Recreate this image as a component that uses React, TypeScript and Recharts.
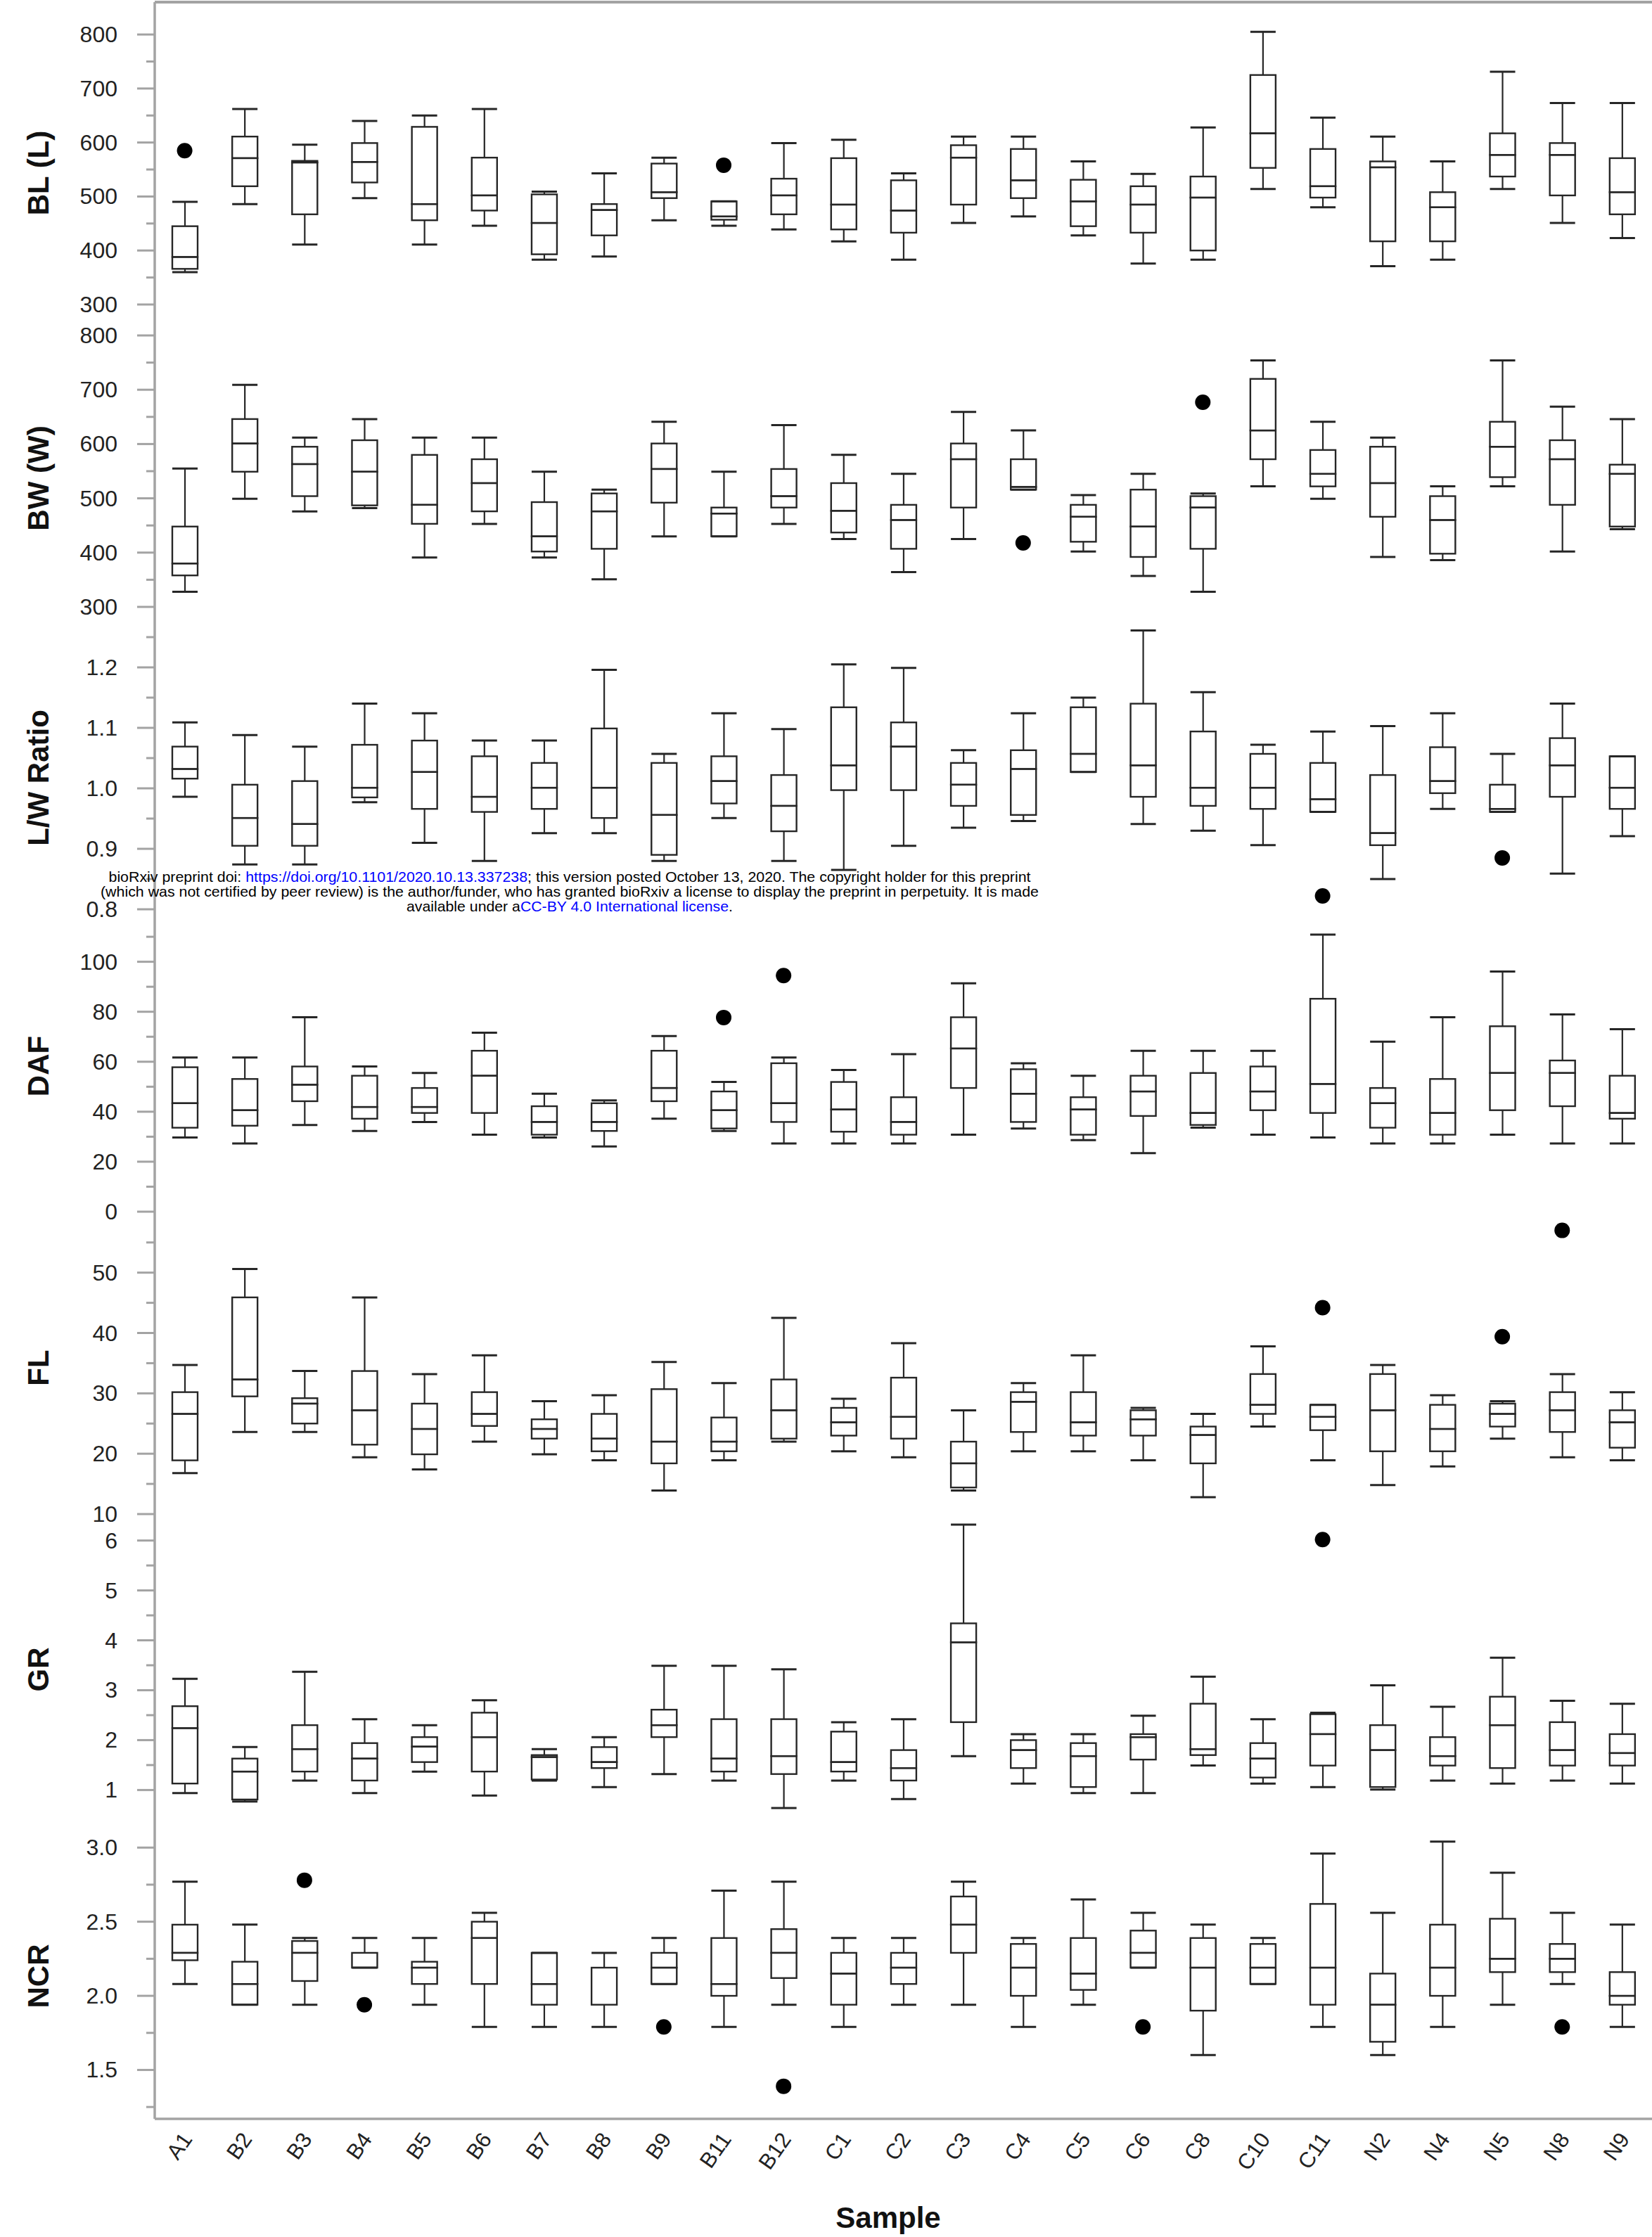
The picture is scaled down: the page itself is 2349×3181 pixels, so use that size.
import React from 'react';
import { ComposedChart, Bar, Scatter, XAxis, YAxis, ReferenceLine } from 'recharts';

const CATEGORIES = ['A1', 'B2', 'B3', 'B4', 'B5', 'B6', 'B7', 'B8', 'B9', 'B11', 'B12', 'C1', 'C2', 'C3', 'C4', 'C5', 'C6', 'C8', 'C10', 'C11', 'N2', 'N4', 'N5', 'N8', 'N9'];

// [min, q1, median, q3, max] per category
const BL_STATS = [
  [360, 366, 388, 445, 490], [486, 519, 571, 611, 662], [411, 467, 563, 566, 596], [497, 526, 564, 599, 640],
  [411, 456, 486, 629, 650], [446, 474, 502, 572, 662], [383, 393, 451, 504, 509], [389, 428, 475, 486, 543],
  [456, 497, 508, 561, 572], [446, 457, 463, 491, 491], [439, 467, 502, 533, 599], [417, 439, 485, 571, 605],
  [383, 433, 474, 530, 543], [451, 485, 572, 595, 611], [463, 497, 530, 588, 611], [428, 445, 491, 531, 565],
  [376, 433, 485, 519, 542], [383, 400, 498, 537, 628], [514, 553, 617, 725, 805], [480, 498, 519, 588, 646],
  [371, 417, 554, 565, 611], [383, 417, 480, 508, 565], [514, 537, 577, 617, 731], [451, 502, 577, 599, 673],
  [423, 467, 508, 571, 673],
];
const BL_OUTLIERS = { A1: 585, B11: 558 };

const BW_STATS = [
  [328, 358, 380, 448, 555], [499, 549, 601, 646, 709], [476, 504, 563, 595, 612], [482, 487, 549, 607, 646],
  [391, 453, 488, 580, 612], [453, 476, 528, 572, 612], [391, 402, 430, 493, 549], [351, 407, 476, 509, 516],
  [430, 492, 554, 601, 641], [430, 430, 472, 483, 549], [453, 483, 504, 554, 635], [425, 437, 477, 528, 580],
  [364, 407, 460, 488, 545], [425, 483, 572, 601, 659], [516, 516, 521, 572, 625], [402, 420, 466, 488, 506],
  [357, 392, 448, 516, 545], [328, 407, 483, 504, 509], [522, 572, 625, 720, 754], [499, 522, 545, 589, 641],
  [392, 466, 528, 595, 612], [386, 398, 460, 504, 522], [522, 539, 595, 641, 754], [402, 488, 572, 607, 669],
  [443, 448, 545, 562, 646],
];
const BW_OUTLIERS = { C4: 418, C8: 677 };

const LW_STATS = [
  [0.986, 1.016, 1.032, 1.069, 1.109], [0.874, 0.905, 0.951, 1.006, 1.088], [0.874, 0.905, 0.941, 1.012, 1.069],
  [0.977, 0.985, 1.001, 1.072, 1.14], [0.91, 0.966, 1.027, 1.079, 1.124], [0.88, 0.961, 0.986, 1.053, 1.079],
  [0.926, 0.966, 1.001, 1.042, 1.079], [0.926, 0.951, 1.001, 1.099, 1.196], [0.88, 0.89, 0.956, 1.042, 1.057],
  [0.951, 0.975, 1.012, 1.053, 1.124], [0.88, 0.929, 0.971, 1.022, 1.098], [0.865, 0.997, 1.038, 1.134, 1.205],
  [0.905, 0.997, 1.069, 1.109, 1.199], [0.935, 0.971, 1.006, 1.042, 1.063], [0.946, 0.956, 1.032, 1.063, 1.124],
  [1.027, 1.027, 1.057, 1.134, 1.15], [0.941, 0.986, 1.038, 1.14, 1.261], [0.93, 0.971, 1.001, 1.094, 1.159],
  [0.906, 0.966, 1.001, 1.057, 1.072], [0.961, 0.961, 0.982, 1.042, 1.094], [0.85, 0.906, 0.926, 1.022, 1.103],
  [0.966, 0.992, 1.012, 1.068, 1.124], [0.961, 0.961, 0.966, 1.006, 1.057], [0.859, 0.986, 1.038, 1.083, 1.14],
  [0.921, 0.966, 1.001, 1.053, 1.053],
];
const LW_OUTLIERS = { C11: 0.822, N5: 0.885 };

const DAF_STATS = [
  [29.7, 33.6, 43.4, 57.8, 61.7], [27.3, 34.4, 40.6, 53.1, 61.7], [34.7, 44.2, 50.8, 58.1, 77.8], [32.3, 37.2, 41.9, 54.4, 58.1],
  [35.9, 39.5, 41.9, 49.5, 55.5], [30.8, 39.5, 54.4, 64.4, 71.6], [29.7, 30.8, 35.9, 42.2, 47.2], [26.1, 32.3, 35.9, 43.4, 44.5],
  [37.2, 44.2, 49.5, 64.4, 70.3], [32.3, 33.3, 40.6, 48.1, 51.9], [27.3, 35.9, 43.4, 59.4, 61.7], [27.3, 32.0, 40.9, 51.9, 56.7],
  [27.3, 30.8, 35.9, 45.8, 63.0], [30.8, 49.5, 65.3, 77.8, 91.4], [33.3, 35.9, 47.2, 57.0, 59.4], [28.6, 30.8, 40.9, 45.8, 54.4],
  [23.4, 38.3, 48.1, 54.4, 64.4], [33.6, 34.7, 39.5, 55.5, 64.4], [30.8, 40.6, 48.1, 58.1, 64.4], [29.7, 39.5, 51.1, 85.2, 110.9],
  [27.3, 33.6, 43.4, 49.5, 68.0], [27.3, 30.8, 39.5, 53.1, 77.8], [30.8, 40.6, 55.5, 74.2, 96.1], [27.3, 42.2, 55.5, 60.5, 78.9],
  [27.3, 37.2, 39.5, 54.4, 73.0],
];
const DAF_OUTLIERS = { B11: 77.7, B12: 94.5 };

const FL_STATS = [
  [16.8, 18.9, 26.6, 30.2, 34.7], [23.6, 29.5, 32.3, 45.9, 50.6], [23.6, 25.0, 28.3, 29.2, 33.7], [19.4, 21.5, 27.2, 33.7, 45.9],
  [17.4, 19.9, 24.1, 28.3, 33.2], [22.0, 24.6, 26.6, 30.2, 36.3], [19.9, 22.5, 24.1, 25.7, 28.7], [18.9, 20.4, 22.5, 26.6, 29.7],
  [13.9, 18.4, 22.0, 30.7, 35.2], [18.9, 20.4, 22.0, 26.0, 31.7], [22.0, 22.5, 27.2, 32.3, 42.5], [20.4, 23.0, 25.2, 27.6, 29.1],
  [19.4, 22.5, 26.1, 32.6, 38.3], [13.9, 14.4, 18.4, 22.0, 27.2], [20.4, 23.6, 28.6, 30.2, 31.7], [20.4, 23.0, 25.2, 30.2, 36.3],
  [18.9, 23.0, 25.7, 27.2, 27.6], [12.8, 18.4, 23.1, 24.5, 26.6], [24.5, 26.6, 28.1, 33.2, 37.8], [18.9, 23.9, 26.1, 28.1, 28.1],
  [14.8, 20.4, 27.2, 33.2, 34.7], [17.9, 20.4, 24.1, 28.1, 29.7], [22.5, 24.5, 26.6, 28.3, 28.7], [19.4, 23.6, 27.2, 30.2, 33.2],
  [18.9, 21.0, 25.2, 27.2, 30.2],
];
const FL_OUTLIERS = { C11: 44.2, N5: 39.4, N8: 57.0 };

const GR_STATS = [
  [0.94, 1.13, 2.24, 2.68, 3.23], [0.77, 0.81, 1.37, 1.63, 1.86], [1.19, 1.37, 1.82, 2.3, 3.37], [0.94, 1.19, 1.63, 1.94, 2.42],
  [1.37, 1.56, 1.87, 2.06, 2.3], [0.89, 1.37, 2.06, 2.55, 2.8], [1.19, 1.21, 1.66, 1.7, 1.82], [1.06, 1.44, 1.56, 1.86, 2.06],
  [1.32, 2.06, 2.3, 2.61, 3.49], [1.19, 1.37, 1.63, 2.42, 3.49], [0.64, 1.32, 1.68, 2.42, 3.42], [1.19, 1.37, 1.56, 2.17, 2.36],
  [0.82, 1.19, 1.44, 1.8, 2.42], [1.68, 2.36, 3.96, 4.34, 6.32], [1.13, 1.44, 1.8, 2.0, 2.12], [0.94, 1.06, 1.68, 1.94, 2.12],
  [0.94, 1.61, 2.06, 2.12, 2.49], [1.49, 1.7, 1.82, 2.73, 3.27], [1.13, 1.25, 1.63, 1.94, 2.42], [1.06, 1.49, 2.12, 2.52, 2.55],
  [1.01, 1.06, 1.8, 2.3, 3.1], [1.19, 1.49, 1.68, 2.06, 2.67], [1.13, 1.44, 2.3, 2.87, 3.65], [1.19, 1.49, 1.8, 2.36, 2.79],
  [1.13, 1.49, 1.74, 2.12, 2.73],
];
const GR_OUTLIERS = { C11: 6.02 };

const NCR_STATS = [
  [2.08, 2.24, 2.29, 2.48, 2.77], [1.94, 1.94, 2.08, 2.23, 2.48], [1.94, 2.1, 2.29, 2.37, 2.39], [2.19, 2.19, 2.19, 2.29, 2.39],
  [1.94, 2.08, 2.19, 2.23, 2.39], [1.79, 2.08, 2.39, 2.5, 2.56], [1.79, 1.94, 2.08, 2.29, 2.29], [1.79, 1.94, 2.19, 2.19, 2.29],
  [2.08, 2.08, 2.19, 2.29, 2.39], [1.79, 2.0, 2.08, 2.39, 2.71], [1.94, 2.12, 2.29, 2.45, 2.77], [1.79, 1.94, 2.15, 2.29, 2.39],
  [1.94, 2.08, 2.19, 2.29, 2.39], [1.94, 2.29, 2.48, 2.67, 2.77], [1.79, 2.0, 2.19, 2.35, 2.39], [1.94, 2.04, 2.15, 2.39, 2.65],
  [2.19, 2.19, 2.29, 2.44, 2.56], [1.6, 1.9, 2.19, 2.39, 2.48], [2.08, 2.08, 2.19, 2.35, 2.39], [1.79, 1.94, 2.19, 2.62, 2.96],
  [1.6, 1.69, 1.94, 2.15, 2.56], [1.79, 2.0, 2.19, 2.48, 3.04], [1.94, 2.16, 2.25, 2.52, 2.83], [2.08, 2.16, 2.25, 2.35, 2.56],
  [1.79, 1.94, 2.0, 2.16, 2.48],
];
const NCR_OUTLIERS = { B3: 2.78, B4: 1.94, B9: 1.79, B12: 1.39, C6: 1.79, N8: 1.79 };

// axis ticks
const BL_MAJOR = [300, 400, 500, 600, 700, 800];
const BL_MINOR = [350, 450, 550, 650, 750];
const LW_MAJOR = [0.8, 0.9, 1.0, 1.1, 1.2];
const LW_MINOR = [0.85, 0.95, 1.05, 1.15, 1.25];
const DAF_MAJOR = [0, 20, 40, 60, 80, 100];
const DAF_MINOR = [10, 30, 50, 70, 90, 110];
const FL_MAJOR = [10, 20, 30, 40, 50];
const FL_MINOR = [15, 25, 35, 45, 55];
const GR_MAJOR = [1, 2, 3, 4, 5, 6];
const GR_MINOR = [1.5, 2.5, 3.5, 4.5, 5.5];
const NCR_MAJOR = [1.5, 2.0, 2.5, 3.0];
const NCR_MINOR = [1.25, 1.75, 2.25, 2.75];

const FONT = '"Liberation Sans", Arial, Helvetica, sans-serif';
const W = 2349;
const AXIS_W = 220;
const PLOT_H = 430;
const XAXIS_H = 168;
const GRID = '#a3a3a3';
const INK = '#262626';

type Stat = number[];

function buildRows(stats: Stat[], outliers: Record<string, number>) {
  return CATEGORIES.map((cat, i) => {
    const [mn, q1, md, q3, mx] = stats[i];
    return {
      cat,
      base: mn,
      lw: q1 - mn,
      lb: md - q1,
      ub: q3 - md,
      uw: mx - q3,
      outlier: outliers[cat] !== undefined ? outliers[cat] : null,
    };
  });
}

const LowerWhisker = (p: any) => {
  if (p.x == null || p.y == null || !isFinite(p.y)) return <g />;
  const top = Math.min(p.y, p.y + p.height);
  const bot = Math.max(p.y, p.y + p.height);
  const cx = p.x + p.width / 2;
  return (
    <g>
      <line x1={cx} x2={cx} y1={top} y2={bot} stroke={INK} strokeWidth={2.2} />
      <line x1={p.x} x2={p.x + p.width} y1={bot} y2={bot} stroke={INK} strokeWidth={3} />
    </g>
  );
};

const UpperWhisker = (p: any) => {
  if (p.x == null || p.y == null || !isFinite(p.y)) return <g />;
  const top = Math.min(p.y, p.y + p.height);
  const bot = Math.max(p.y, p.y + p.height);
  const cx = p.x + p.width / 2;
  return (
    <g>
      <line x1={cx} x2={cx} y1={top} y2={bot} stroke={INK} strokeWidth={2.2} />
      <line x1={p.x} x2={p.x + p.width} y1={top} y2={top} stroke={INK} strokeWidth={3} />
    </g>
  );
};

const BoxPart = (p: any) => {
  if (p.x == null || p.y == null || !isFinite(p.y)) return <g />;
  const top = Math.min(p.y, p.y + p.height);
  const h = Math.abs(p.height);
  return <rect x={p.x} y={top} width={p.width} height={h} fill="none" stroke={INK} strokeWidth={2.4} />;
};

const Invisible = () => <g />;

const OutlierDot = (p: any) => {
  if (!p.payload || p.payload.outlier == null || p.cy == null || !isFinite(p.cy)) return <g />;
  return <circle cx={p.cx} cy={p.cy} r={11} fill="#000" />;
};

const makeYTick = (major: number[], digits: number) => (p: any) => {
  const v = p.payload.value;
  const isMajor = major.some((m) => Math.abs(m - v) < 1e-9);
  const y = p.y;
  return (
    <g>
      <line x1={AXIS_W - (isMajor ? 25 : 12)} x2={AXIS_W} y1={y} y2={y} stroke={GRID} strokeWidth={3} />
      {isMajor && (
        <text x={AXIS_W - 53} y={y} textAnchor="end" dominantBaseline="central" fontSize={32} fontFamily={FONT} fill="#222">
          {v.toFixed(digits)}
        </text>
      )}
    </g>
  );
};

const XTick = (p: any) => {
  const ax = p.x + 12;
  const ay = PLOT_H + 29;
  return (
    <text x={ax} y={ay} transform={`rotate(-55, ${ax}, ${ay})`} textAnchor="end" fontSize={31} fontFamily={FONT} fill="#222">
      {p.payload.value}
    </text>
  );
};

type PanelProps = {
  stats: Stat[];
  outliers: Record<string, number>;
  domain: [number, number];
  major: number[];
  minor: number[];
  digits: number;
  topPad?: number;
  last?: boolean;
  topLine?: boolean;
};

function BoxPanel({ stats, outliers, domain, major, minor, digits, topPad = 0, last = false, topLine = false }: PanelProps) {
  const rows = buildRows(stats, outliers);
  const ticks = [...major, ...minor].sort((a, b) => a - b);
  const height = topPad + PLOT_H + (last ? XAXIS_H : 0);
  return (
    <ComposedChart width={W} height={height} data={rows} margin={{ top: topPad, right: 0, bottom: 0, left: 0 }}>
      <XAxis
        dataKey="cat"
        type="category"
        height={last ? XAXIS_H : 0}
        tick={last ? <XTick /> : false}
        tickLine={false}
        tickSize={0}
        interval={0}
        axisLine={{ stroke: GRID, strokeWidth: 3.5 }}
      />
      <YAxis
        type="number"
        domain={domain}
        allowDataOverflow
        ticks={ticks}
        interval={0}
        width={AXIS_W}
        tickLine={false}
        tickSize={0}
        tick={makeYTick(major, digits)}
        axisLine={{ stroke: GRID, strokeWidth: 3.5 }}
      />
      {topLine && <ReferenceLine y={domain[1]} stroke={GRID} strokeWidth={4} />}
      <Bar dataKey="base" stackId="b" barSize={36} shape={<Invisible />} isAnimationActive={false} />
      <Bar dataKey="lw" stackId="b" barSize={36} shape={<LowerWhisker />} isAnimationActive={false} />
      <Bar dataKey="lb" stackId="b" barSize={36} shape={<BoxPart />} isAnimationActive={false} />
      <Bar dataKey="ub" stackId="b" barSize={36} shape={<BoxPart />} isAnimationActive={false} />
      <Bar dataKey="uw" stackId="b" barSize={36} shape={<UpperWhisker />} isAnimationActive={false} />
      <Scatter dataKey="outlier" shape={<OutlierDot />} isAnimationActive={false} />
    </ComposedChart>
  );
}

const TITLES = [
  { text: 'BL (L)', y: 246 },
  { text: 'BW (W)', y: 680 },
  { text: 'L/W Ratio', y: 1106 },
  { text: 'DAF', y: 1516 },
  { text: 'FL', y: 1945 },
  { text: 'GR', y: 2374 },
  { text: 'NCR', y: 2810 },
];

export default function App() {
  return (
    <div style={{ position: 'absolute', left: 0, top: 0, width: W, height: 3181, background: '#fff' }}>
      <style>{`.recharts-surface{overflow:visible !important}.recharts-wrapper{overflow:visible !important}`}</style>
      <BoxPanel stats={BL_STATS} outliers={BL_OUTLIERS} domain={[300, 860]} major={BL_MAJOR} minor={BL_MINOR} digits={0} topPad={3} topLine />
      <BoxPanel stats={BW_STATS} outliers={BW_OUTLIERS} domain={[300, 857]} major={BL_MAJOR} minor={BL_MINOR} digits={0} />
      <BoxPanel stats={LW_STATS} outliers={LW_OUTLIERS} domain={[0.8, 1.3]} major={LW_MAJOR} minor={LW_MINOR} digits={1} />
      <BoxPanel stats={DAF_STATS} outliers={DAF_OUTLIERS} domain={[0, 121]} major={DAF_MAJOR} minor={DAF_MINOR} digits={0} />
      <BoxPanel stats={FL_STATS} outliers={FL_OUTLIERS} domain={[10, 60.1]} major={FL_MAJOR} minor={FL_MINOR} digits={0} />
      <BoxPanel stats={GR_STATS} outliers={GR_OUTLIERS} domain={[0.47, 6.53]} major={GR_MAJOR} minor={GR_MINOR} digits={0} />
      <BoxPanel stats={NCR_STATS} outliers={NCR_OUTLIERS} domain={[1.17, 3.21]} major={NCR_MAJOR} minor={NCR_MINOR} digits={1} last />
      <svg width={W} height={3181} style={{ position: 'absolute', left: 0, top: 0, pointerEvents: 'none' }}>
        {TITLES.map((t) => (
          <text
            key={t.text}
            transform={`translate(54, ${t.y}) rotate(-90)`}
            textAnchor="middle"
            dominantBaseline="central"
            fontSize={42}
            fontWeight="bold"
            fontFamily={FONT}
            fill="#111"
          >
            {t.text}
          </text>
        ))}
        <text x={1263} y={3168} textAnchor="middle" fontSize={42} fontWeight="bold" fontFamily={FONT} fill="#111">
          Sample
        </text>
        <g fontFamily={FONT} fontSize={21} fill="#000">
          <text x={810} y={1254} textAnchor="middle" textLength={1311} lengthAdjust="spacingAndGlyphs">
            bioRxiv preprint doi: <tspan fill="#0000ff">https://doi.org/10.1101/2020.10.13.337238</tspan>; this version posted October 13, 2020. The copyright holder for this preprint
          </text>
          <text x={810} y={1275} textAnchor="middle" textLength={1334} lengthAdjust="spacingAndGlyphs">
            (which was not certified by peer review) is the author/funder, who has granted bioRxiv a license to display the preprint in perpetuity. It is made
          </text>
          <text x={810} y={1296} textAnchor="middle" textLength={464} lengthAdjust="spacingAndGlyphs">
            available under a<tspan fill="#0000ff">CC-BY 4.0 International license</tspan>.
          </text>
        </g>
      </svg>
    </div>
  );
}
